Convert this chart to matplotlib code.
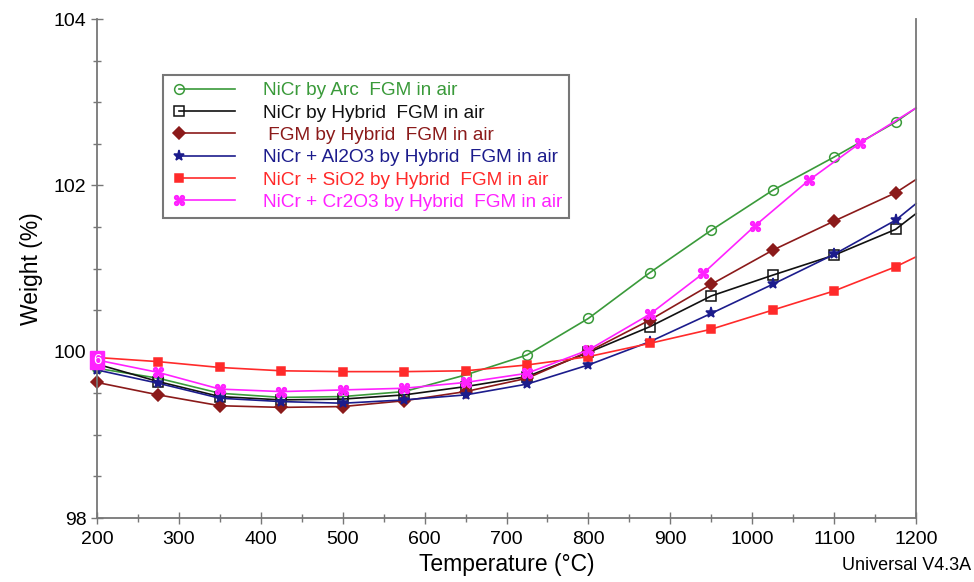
#!/usr/bin/env python
# -*- coding: utf-8 -*-

import numpy as np
import matplotlib
matplotlib.use('Agg')
import matplotlib.pyplot as plt
from matplotlib.lines import Line2D
from matplotlib.legend_handler import HandlerLine2D
from matplotlib.ticker import MultipleLocator

###############################################################################
# Data
###############################################################################
TEMP = [200, 275, 350, 425, 500, 575, 650, 725, 800, 875, 950, 1025, 1100, 1175, 1200]
TEMP_CR2O3 = [200, 275, 350, 425, 500, 575, 650, 725, 800, 875, 940, 1003, 1069, 1132, 1200]

W_ARC = [99.80, 99.68, 99.50, 99.45, 99.46, 99.52, 99.72, 99.96, 100.40, 100.95, 101.46, 101.94, 102.34, 102.76, 102.93]
W_HYB = [99.85, 99.64, 99.46, 99.42, 99.43, 99.48, 99.58, 99.70, 99.99, 100.30, 100.67, 100.92, 101.16, 101.47, 101.66]
W_FGM = [99.63, 99.48, 99.35, 99.33, 99.34, 99.41, 99.52, 99.68, 100.00, 100.38, 100.81, 101.22, 101.57, 101.91, 102.07]
W_AL2O3 = [99.78, 99.62, 99.44, 99.40, 99.38, 99.42, 99.48, 99.61, 99.84, 100.12, 100.46, 100.81, 101.17, 101.58, 101.78]
W_SIO2 = [99.93, 99.88, 99.81, 99.77, 99.76, 99.76, 99.77, 99.84, 99.94, 100.10, 100.27, 100.50, 100.73, 101.02, 101.14]
W_CR2O3 = [99.90, 99.75, 99.55, 99.52, 99.54, 99.56, 99.63, 99.74, 100.02, 100.45, 100.94, 101.51, 102.06, 102.51, 102.93]

LABELS = [
    'NiCr by Arc  FGM in air',
    'NiCr by Hybrid  FGM in air',
    ' FGM by Hybrid  FGM in air',
    'NiCr + Al2O3 by Hybrid  FGM in air',
    'NiCr + SiO2 by Hybrid  FGM in air',
    'NiCr + Cr2O3 by Hybrid  FGM in air',
]
COLORS = ['#3a9a3a', '#111111', '#8b1a1a', '#1c1c8c', '#ff2a2a', '#ff22ff']
MARKERS = ['o', 's', 'D', '*', 's', '$\u2318$']
FILLED = [False, False, True, True, True, True]
MSIZE = [7, 7, 6, 8, 6, 7]

###############################################################################
# Style
###############################################################################
plt.rcParams['font.family'] = ['Liberation Sans', 'DejaVu Sans']
(W, H, DPI) = (974, 582, 100)
SPN = '#777777'


class LeftMarkerHandler(HandlerLine2D):
    # legend line with a single marker on its left end
    def create_artists(self, legend, orig_handle, xdescent, ydescent,
                       width, height, fontsize, trans):
        xdata = np.array([-xdescent + 6, -xdescent + width])
        ydata = np.full(2, (height - ydescent) / 2)
        line = Line2D(xdata, ydata)
        self.update_prop(line, orig_handle, legend)
        line.set_markevery([0])
        line.set_transform(trans)
        return [line]


###############################################################################
# Plot
###############################################################################
fig = plt.figure(figsize=(W/DPI, H/DPI), dpi=DPI)
ax = fig.add_axes([97/W, 1-518/H, (916-97)/W, (518-19)/H])

series = [
    (TEMP, W_ARC), (TEMP, W_HYB), (TEMP, W_FGM),
    (TEMP, W_AL2O3), (TEMP, W_SIO2), (TEMP_CR2O3, W_CR2O3),
]
handles = []
for i, (xs, ys) in enumerate(series):
    (ln, ) = ax.plot(
        xs, ys, color=COLORS[i], lw=1.2,
        marker=MARKERS[i], ms=MSIZE[i], mew=1.1,
        mfc=(COLORS[i] if FILLED[i] else 'none'), mec=COLORS[i],
        markevery=list(range(len(xs)-1)), label=LABELS[i], clip_on=False
    )
    handles.append(ln)

# curve id box from the analysis software
ax.text(
    200, 99.90, '6', color='white', fontsize=11, ha='center', va='center',
    bbox=dict(boxstyle='square,pad=0.15', fc='#ff22ff', ec='#ff22ff'),
    zorder=5, clip_on=False
)

ax.set_xlim(200, 1200)
ax.set_ylim(98, 104)
ax.xaxis.set_major_locator(MultipleLocator(100))
ax.xaxis.set_minor_locator(MultipleLocator(50))
ax.yaxis.set_major_locator(MultipleLocator(2))
ax.yaxis.set_minor_locator(MultipleLocator(0.5))
ax.tick_params(which='both', direction='inout', color=SPN, labelsize=14)
ax.tick_params(which='major', length=8, width=1)
ax.tick_params(which='minor', length=6, width=1)
ax.tick_params(axis='x', pad=5)
for s in ['left', 'bottom', 'right']:
    ax.spines[s].set_color(SPN)
    ax.spines[s].set_linewidth(1.3)
ax.spines['top'].set_visible(False)

ax.set_xlabel('Temperature (°C)', fontsize=16.5, labelpad=4)
ax.set_ylabel('Weight (%)', fontsize=16.5, labelpad=8)
fig.text(0.997, 0.028, 'Universal V4.3A', fontsize=13, ha='right', va='center')

leg = ax.legend(
    handles=handles, loc='upper left', bbox_to_anchor=(0.0806, 0.888),
    handler_map={Line2D: LeftMarkerHandler()},
    fontsize=13.7, handlelength=3.4, handletextpad=1.45, labelspacing=0.26,
    borderpad=0.38, borderaxespad=0, fancybox=False, framealpha=1,
    edgecolor=SPN
)
leg.get_frame().set_linewidth(1.5)
for (txt, col) in zip(leg.get_texts(), COLORS):
    txt.set_color(col)

fig.savefig('out.png', dpi=DPI)
plt.close('all')
